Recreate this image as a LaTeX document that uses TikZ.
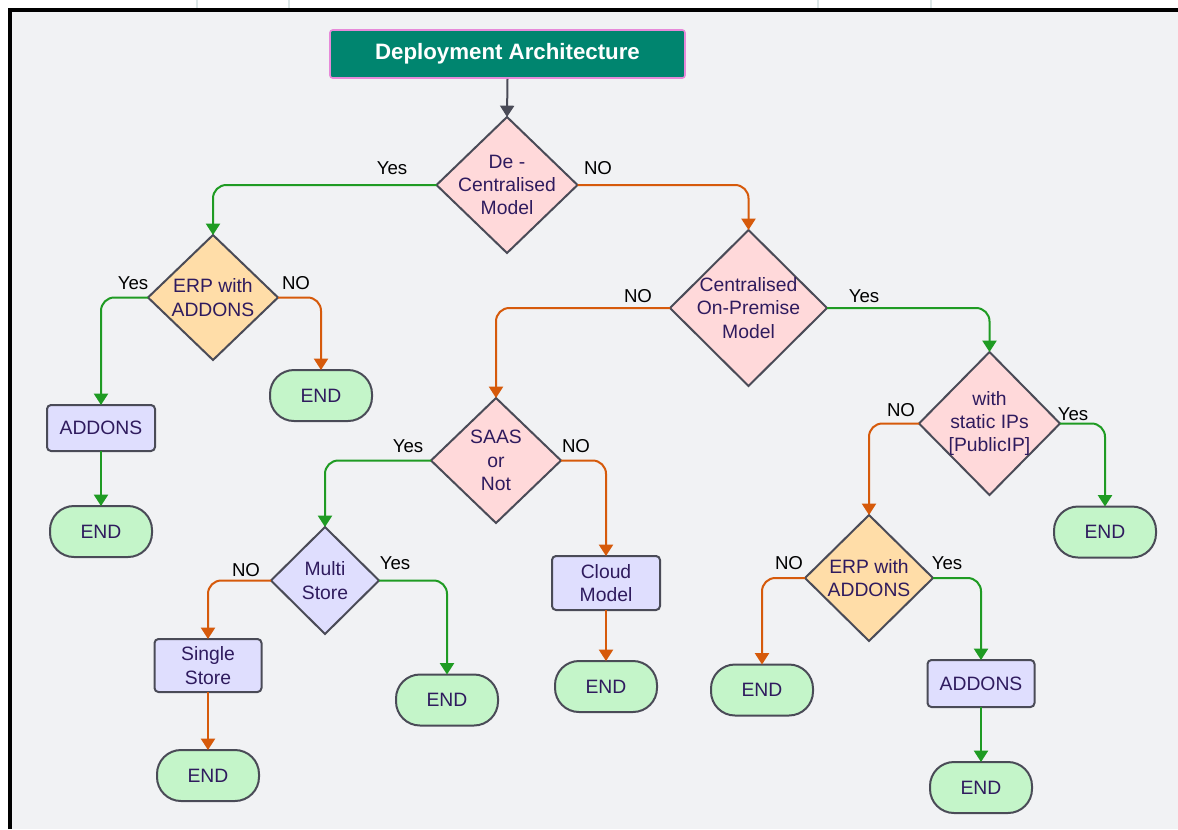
\documentclass[tikz,border=0pt]{standalone}
\usepackage{fontspec}
\setmainfont{Liberation Sans}
\usetikzlibrary{shapes.geometric,arrows.meta}

\definecolor{pagebg}{HTML}{F1F2F4}
\definecolor{headfill}{HTML}{00856F}
\definecolor{headline}{HTML}{E78AD9}
\definecolor{decpink}{HTML}{FFD9DA}
\definecolor{decorange}{HTML}{FFDDA8}
\definecolor{lavender}{HTML}{DFDEFE}
\definecolor{endgreen}{HTML}{C4F5C9}
\definecolor{edgegray}{HTML}{4A4B57}
\definecolor{inktext}{HTML}{2F1B5E}
\definecolor{yesgreen}{HTML}{1F9B23}
\definecolor{nored}{HTML}{D65A0B}
\definecolor{stubline}{HTML}{DCE6E6}

\tikzset{
  bodyfont/.style={font=\fontsize{14.5pt}{17.5pt}\selectfont, text=inktext, align=center},
  decision/.style={diamond, draw=edgegray, line width=1.5pt, inner sep=0pt, outer sep=0pt},
  dectext/.style={bodyfont},
  procbox/.style={rectangle, draw=edgegray, line width=1.5pt, rounded corners=3pt,
    fill=lavender, inner sep=0pt, outer sep=0pt, bodyfont},
  endcap/.style={rectangle, draw=edgegray, line width=1.5pt, rounded corners=18pt,
    fill=endgreen, inner sep=0pt, outer sep=0pt, bodyfont,
    minimum width=76.5pt, minimum height=38.25pt},
  branchlabel/.style={font=\fontsize{14pt}{16pt}\selectfont, text=black, inner sep=0pt},
  flow/.style={line width=1.5pt, rounded corners=10pt, -{Triangle[length=8.5pt,width=10.5pt]}},
  yesflow/.style={flow, draw=yesgreen},
  noflow/.style={flow, draw=nored},
}

\begin{document}
\begin{tikzpicture}[x=0.75pt, y=-0.75pt]
  \useasboundingbox (0,0) rectangle (1178,829);

  % canvas and frame
  \fill[white] (0,0) rectangle (1178,829);
  \fill[pagebg] (10,10) rectangle (1178,829);
  \foreach \sx in {197,289,818,931}
    \draw[stubline, line width=1pt] (\sx,0) -- (\sx,7.5);
  \draw[black, line width=3pt] (9.5,829) -- (9.5,9.5) -- (1178,9.5);

  % header
  \node[rectangle, draw=headline, line width=1.2pt, fill=headfill, rounded corners=2pt,
        minimum width=266.25pt, minimum height=36pt, inner sep=0pt,
        font=\fontsize{16.7pt}{19pt}\selectfont\bfseries, text=white]
        (title) at (507.5,54) {Deployment Architecture};

  % decisions
  \node[decision, fill=decpink, minimum width=105.75pt, minimum height=102pt,
        label={[dectext]center:{De -\\Centralised\\Model}}] (d1) at (507,185) {};
  \node[decision, fill=decorange, minimum width=97.5pt, minimum height=93.75pt,
        label={[dectext]center:{ERP with\\ADDONS}}] (d2) at (213,297.5) {};
  \node[decision, fill=decpink, minimum width=117.75pt, minimum height=117pt,
        label={[dectext]center:{Centralised\\On-Premise\\Model}}] (d3) at (748.5,308) {};
  \node[decision, fill=decpink, minimum width=97.5pt, minimum height=93.75pt,
        label={[dectext]center:{SAAS\\or\\Not}}] (d4) at (496,460.5) {};
  \node[decision, fill=decpink, minimum width=105.75pt, minimum height=107.25pt,
        label={[dectext]center:{with\\static IPs\\{[}PublicIP{]}}}] (d5) at (989.5,423.5) {};
  \node[decision, fill=lavender, minimum width=81pt, minimum height=80.25pt,
        label={[dectext]center:{Multi\\Store}}] (d6) at (325,580.5) {};
  \node[decision, fill=decorange, minimum width=96pt, minimum height=94.5pt,
        label={[dectext]center:{ERP with\\ADDONS}}] (d7) at (869,578) {};

  % process boxes
  \node[procbox, minimum width=81pt, minimum height=34.5pt] (addons1) at (101,428) {ADDONS};
  \node[procbox, minimum width=80.25pt, minimum height=39.75pt] (single) at (208,665.5) {Single\\Store};
  \node[procbox, minimum width=81pt, minimum height=40.5pt] (cloud) at (606,583) {Cloud\\Model};
  \node[procbox, minimum width=80.25pt, minimum height=35.25pt] (addons2) at (981,683.5) {ADDONS};

  % terminals
  \node[endcap] (end1) at (321,395.5) {END};
  \node[endcap] (end2) at (101,531.5) {END};
  \node[endcap] (end3) at (208,775.5) {END};
  \node[endcap] (end4) at (447,700) {END};
  \node[endcap] (end5) at (606,686.5) {END};
  \node[endcap] (end6) at (1105,532) {END};
  \node[endcap] (end7) at (762,690) {END};
  \node[endcap] (end8) at (981,787.5) {END};

  % connectors
  \draw[flow, draw=edgegray] (title.south) -- (d1.north);
  \draw[yesflow] (d1.west) -| (d2.north);
  \draw[noflow]  (d1.east) -| (d3.north);
  \draw[yesflow] (d2.west) -| (addons1.north);
  \draw[noflow]  (d2.east) -| (end1.north);
  \draw[yesflow] (addons1.south) -- (end2.north);
  \draw[noflow]  (d3.west) -| (d4.north);
  \draw[yesflow] (d3.east) -| (d5.north);
  \draw[yesflow] (d4.west) -| (d6.north);
  \draw[noflow]  (d4.east) -| (cloud.north);
  \draw[noflow]  (cloud.south) -- (end5.north);
  \draw[noflow]  (d6.west) -| (single.north);
  \draw[yesflow] (d6.east) -| (end4.north);
  \draw[noflow]  (single.south) -- (end3.north);
  \draw[noflow]  (d5.west) -| (d7.north);
  \draw[yesflow] (d5.east) -| (end6.north);
  \draw[noflow]  (d7.west) -| (end7.north);
  \draw[yesflow] (d7.east) -| (addons2.north);
  \draw[yesflow] (addons2.south) -- (end8.north);

  % branch labels
  \node[branchlabel] (l1y) at (392,168) {Yes};
  \node[branchlabel] (l1n) at (598,168) {NO};
  \node[branchlabel] (l2y) at (133,283) {Yes};
  \node[branchlabel] (l2n) at (296,283) {NO};
  \node[branchlabel] (l3n) at (638,296) {NO};
  \node[branchlabel] (l3y) at (864,296) {Yes};
  \node[branchlabel] (l4y) at (408,446) {Yes};
  \node[branchlabel] (l4n) at (576,446) {NO};
  \node[branchlabel] (l6n) at (246,570) {NO};
  \node[branchlabel] (l6y) at (395,563) {Yes};
  \node[branchlabel] (l5n) at (901,410) {NO};
  \node[branchlabel] (l5y) at (1073,414) {Yes};
  \node[branchlabel] (l7n) at (789,563) {NO};
  \node[branchlabel] (l7y) at (947,563) {Yes};
\end{tikzpicture}
\end{document}
